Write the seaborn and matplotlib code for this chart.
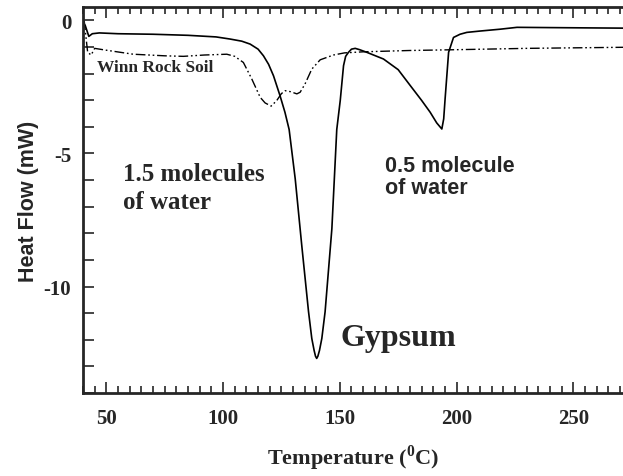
import numpy as np
import matplotlib
matplotlib.use('Agg')
import matplotlib.pyplot as plt
from matplotlib.ticker import MultipleLocator
import seaborn as sns

# Krzywa DSC - gips (linia ciagla)
temp_gips = [40, 41, 42.5, 44, 47, 55, 70, 85, 97, 103, 108, 111.6, 115, 117.3, 119.5,
             121.6, 124.4, 126.5, 128.3, 130.9, 133.7, 136.6, 138, 139, 139.6, 140.1,
             140.6, 141.3, 142.3, 143.7, 146.6, 148.7, 150.2, 151.6, 152.5, 153.7, 155,
             156.6, 158.5, 161.6, 168.7, 175, 180.2, 185, 188.7, 191.5, 193.7, 194.5,
             195.1, 196.6, 198.7, 201.5, 204.4, 210, 218.7, 225.9, 240, 255, 271.3]
flow_gips = [-0.05, -0.2, -0.6, -0.5, -0.47, -0.5, -0.52, -0.56, -0.62, -0.7, -0.78, -0.89,
             -1.08, -1.33, -1.65, -2.08, -2.83, -3.45, -4.1, -5.95, -8.45, -10.94, -11.95,
             -12.4, -12.62, -12.7, -12.62, -12.4, -11.95, -10.95, -7.83, -4.1, -3.0,
             -1.7, -1.35, -1.2, -1.08, -1.05, -1.1, -1.2, -1.45, -1.85, -2.45, -3.0,
             -3.45, -3.85, -4.08, -3.7, -2.95, -1.2, -0.64, -0.52, -0.45, -0.4, -0.33,
             -0.26, -0.27, -0.28, -0.29]

# Krzywa DSC - gleba Winn Rock (linia kreska-kropka-kropka)
temp_gleba = [40.5, 42, 43.5, 45, 50, 61.5, 75, 83, 92, 101.6, 105, 108.7, 112.3, 115.9,
              118, 120.6, 123, 125, 126.6, 129, 131.6, 133, 135.1, 138, 141.6, 147.3,
              152, 160, 180, 200, 230, 271.3]
flow_gleba = [0.0, -1.2, -1.3, -1.05, -1.12, -1.27, -1.33, -1.35, -1.3, -1.27, -1.35, -1.58,
              -2.2, -2.89, -3.1, -3.22, -3.01, -2.75, -2.64, -2.68, -2.76, -2.7, -2.39,
              -1.83, -1.48, -1.3, -1.22, -1.18, -1.13, -1.1, -1.05, -1.01]

x_ticks = [50, 100, 150, 200, 250]
y_ticks = [0, -5, -10]

sns.set_style('ticks')
plt.rcParams['font.family'] = ['Liberation Serif', 'DejaVu Serif']
plt.rcParams['axes.unicode_minus'] = False
plt.rcParams['mathtext.fontset'] = 'custom'
plt.rcParams['mathtext.rm'] = 'Liberation Serif:bold'
plt.rcParams['mathtext.bf'] = 'Liberation Serif:bold'

fig = plt.figure(figsize=(6.23, 4.77), dpi=100)
ax = fig.add_axes([0.1332, 0.174, 0.8668, 0.809])

sns.lineplot(x=temp_gips, y=flow_gips, ax=ax, color='black', linewidth=1.2)
sns.lineplot(x=temp_gleba, y=flow_gleba, ax=ax, color='black', linewidth=1.0,
             linestyle=(0, (7, 2, 1.2, 2, 1.2, 2)))

ax.set_xlim(40, 271.3)
ax.set_ylim(-14, 0.5)

ax.set_xticks(x_ticks)
ax.set_yticks(y_ticks)
ax.xaxis.set_minor_locator(MultipleLocator(5))
ax.yaxis.set_minor_locator(MultipleLocator(1))
ax.tick_params(axis='x', which='both', direction='in', top=True, bottom=True, width=1.2,
               labelsize=15, pad=11)
ax.tick_params(axis='x', which='major', length=8)
ax.tick_params(axis='x', which='minor', length=5)
ax.tick_params(axis='y', which='both', direction='in', left=True, right=False, length=8,
               width=1.2, labelsize=15, pad=8.5)
for lab in ax.get_xticklabels() + ax.get_yticklabels():
    lab.set_fontweight('bold')

for s in ['left', 'bottom', 'top']:
    ax.spines[s].set_linewidth(2)
ax.spines['right'].set_visible(False)

ax.set_xlabel(r'Temperature ($^{\mathbf{0}}$C)', fontsize=16, fontweight='bold', labelpad=10)
ax.set_ylabel('Heat Flow (mW)', fontsize=15.5, fontweight='bold',
              family=['Liberation Sans', 'DejaVu Sans'], labelpad=3)

ax.text(46, -1.75, 'Winn Rock Soil', fontsize=12.5, fontweight='bold', va='center', ha='left')
ax.text(57.3, -5.99, '1.5 molecules', fontsize=18, fontweight='bold', va='baseline')
ax.text(57.3, -7.04, 'of water', fontsize=18, fontweight='bold', va='baseline')
ax.text(169.4, -5.64, '0.5 molecule', fontsize=15.5, fontweight='bold', va='baseline',
        family=['Liberation Sans', 'DejaVu Sans'])
ax.text(169.4, -6.49, 'of water', fontsize=15.5, fontweight='bold', va='baseline',
        family=['Liberation Sans', 'DejaVu Sans'])
ax.text(150.2, -12.2, 'Gypsum', fontsize=23, fontweight='bold', va='baseline')

plt.savefig('out.png', dpi=100)
